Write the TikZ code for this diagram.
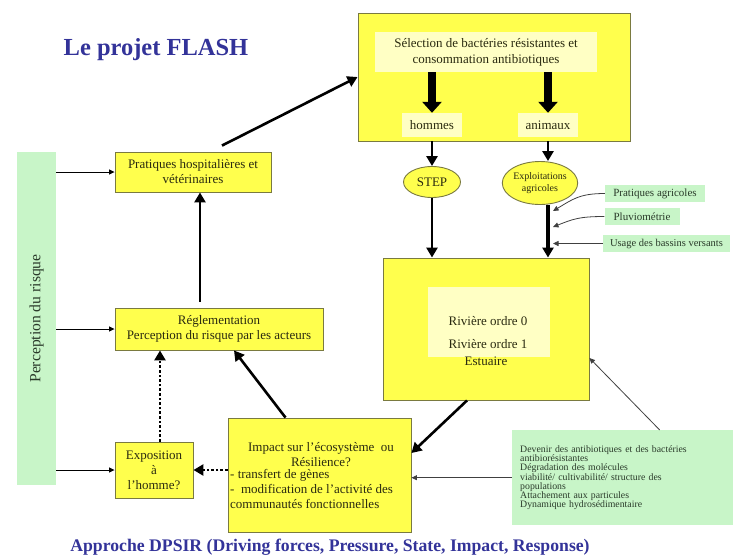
\documentclass[tikz,border=0pt]{standalone}
\usepackage{fontspec}
\setmainfont{Liberation Serif}
\usetikzlibrary{shapes.geometric,arrows.meta}

\definecolor{jaune}{HTML}{FFFF4D}
\definecolor{pale}{HTML}{FFFFC4}
\definecolor{vert}{HTML}{C8F5C8}
\definecolor{bleu}{HTML}{333399}
\definecolor{bord}{HTML}{7A7A40}
\definecolor{encre}{HTML}{2A2A10}
\definecolor{encrev}{HTML}{2A3A2A}

\begin{document}
\begin{tikzpicture}[x=1pt,y=-1pt,>={Triangle[length=10pt,width=11pt]},
    boite/.style={draw=bord,fill=jaune,line width=0.9pt,text=encre,align=center,inner sep=2pt,font=\fontsize{13}{15}\selectfont},
    fond/.style={fill=pale,text=encre,align=center,inner sep=1pt,font=\fontsize{13}{16}\selectfont},
    ovale/.style={ellipse,draw=bord,fill=jaune,line width=0.9pt,text=encre,align=center,inner sep=0pt,font=\fontsize{13}{13}\selectfont},
    vertb/.style={fill=vert,text=encrev,inner sep=1pt,font=\fontsize{11}{12}\selectfont},
    mot/.style={text=encre,align=center,inner sep=0pt,font=\fontsize{13}{15}\selectfont},
    titre/.style={text=bleu,font=\bfseries\fontsize{24.5}{26}\selectfont},
    gros/.style={->,line width=2.6pt},
    bloc/.style={-{Triangle[length=11pt,width=19pt]},line width=8pt},
    pointille/.style={gros,dash pattern=on 2.6pt off 2pt},
    fin/.style={-{Triangle[length=5.5pt,width=5pt]},line width=0.8pt,draw=black!75}]
  \useasboundingbox (0,0) rectangle (733,558);

  % titres
  \node[titre] (titre) at (156,50) {Le projet FLASH};
  \node[titre,font=\bfseries\fontsize{17.7}{19}\selectfont] (dpsir) at (330,547)
    {Approche DPSIR (Driving forces, Pressure, State, Impact, Response)};

  % pression
  \node[boite,minimum width=272pt,minimum height=128pt] (selbox) at (494,77) {};
  \node[fond,minimum width=222pt,minimum height=40pt] (seltxt) at (486,52)
    {S\'election de bact\'eries r\'esistantes et\\consommation antibiotiques};
  \node[fond,minimum width=60pt,minimum height=24pt] (hommes) at (432,125) {hommes};
  \node[fond,minimum width=60pt,minimum height=24pt] (animaux) at (548,125) {animaux};
  \node[ovale,minimum width=57pt,minimum height=31pt] (step) at (432,182) {STEP};
  \node[ovale,minimum width=70pt,minimum height=43pt,font=\fontsize{10}{11.5}\selectfont] (exploit) at (540,183)
    {Exploitations\\agricoles};

  % etat
  \node[boite,minimum width=206pt,minimum height=142pt] (riviere) at (486,329) {};
  \node[fond,minimum width=122pt,minimum height=70pt] (rivfond) at (489,322) {};
  \node[mot] (riv0) at (488,321) {Rivi\`ere ordre 0};
  \node[mot] (riv1) at (488,344) {Rivi\`ere ordre 1};
  \node[mot] (estuaire) at (486,361) {Estuaire};

  % reponse
  \node[boite,minimum width=156pt,minimum height=40pt] (hosp) at (193,172)
    {Pratiques hospitali\`eres et\\v\'et\'erinaires};
  \node[boite,minimum width=208pt,minimum height=42pt] (regl) at (219,329)
    {R\'eglementation\\Perception du risque par les acteurs};
  \node[boite,minimum width=78pt,minimum height=56pt] (expo) at (154,470)
    {Exposition\\\`a\\l'homme?};
  \node[boite,minimum width=183pt,minimum height=114pt] (impact) at (319.5,475) {};
  \node[mot] (impacttitre) at (321,455) {Impact sur l'\'ecosyst\`eme~~ou\\R\'esilience?};
  \node[mot,align=left,anchor=north west] (impactliste) at (230,469)
    {- transfert de g\`enes\\-~~modification de l'activit\'e des\\communaut\'es fonctionnelles};

  % facteurs
  \node[vertb,rotate=90,minimum width=333pt,minimum height=39pt,font=\fontsize{15.6}{16}\selectfont] (percep) at (36.5,318.5)
    {Perception du risque};
  \node[vertb,minimum width=100pt,minimum height=17pt] (pratagr) at (655,193.5) {Pratiques agricoles};
  \node[vertb,minimum width=75pt,minimum height=17pt] (pluvio) at (642,216.5) {Pluviom\'etrie};
  \node[vertb,minimum width=127pt,minimum height=17pt,font=\fontsize{10.5}{12}\selectfont] (usage) at (666.5,243.5) {Usage des bassins versants};
  \node[vertb,anchor=north west,text width=205pt,align=left,inner xsep=8pt,minimum height=95pt,
        font=\fontsize{9.8}{9.2}\selectfont] (devenir) at (512,430)
    {\lineskiplimit=-6pt\relax Devenir des antibiotiques et des bact\'eries\\antibior\'esistantes\\D\'egradation des mol\'ecules\\viabilit\'e/ cultivabilit\'e/ structure des\\populations\\Attachement aux particules\\Dynamique hydros\'edimentaire};

  \coordinate (p1) at (553,211);
  \coordinate (p2) at (553,227);
  \coordinate (p3) at (553,243.5);

  % fleches
  \draw[bloc] (seltxt.south -| hommes) -- (hommes.north);
  \draw[bloc] (seltxt.south -| animaux) -- (animaux.north);
  \draw[gros] (selbox.south -| hommes) -- (step.north);
  \draw[gros] (selbox.south -| animaux) -- (exploit.north -| animaux);
  \draw[gros] (step.south) -- (step.south |- riviere.north);
  \draw[gros,line width=4.5pt] (exploit.south -| animaux) -- (riviere.north -| animaux);

  \draw[fin] (pratagr.west) .. controls +(-25,0) and +(20,-12) .. (p1);
  \draw[fin] (pluvio.west) .. controls +(-25,0) and +(20,-8) .. (p2);
  \draw[fin] (usage.west) -- (p3);

  \foreach \cible in {hosp,regl,expo}
    \draw[fin,draw=black] (percep.south |- \cible.west) -- (\cible.west);

  \draw[gros] ([xshift=29pt,yshift=6pt]hosp.north) -- (selbox.west);
  \draw[gros] ([xshift=-19pt,yshift=6pt]regl.north) -- ([xshift=7pt]hosp.south);
  \draw[pointille] ([xshift=6pt]expo.north) -- ([xshift=6pt]expo.north |- regl.south);
  \draw[gros] ([xshift=-34pt]impact.north) -- ([xshift=15pt]regl.south);
  \draw[pointille] (impact.west |- expo.east) -- (expo.east);
  \draw[gros] ([xshift=-19pt]riviere.south) -- ([yshift=22pt]impact.east);
  \draw[fin] (devenir.west) -- (devenir.west -| impact.east);
  \draw[fin] ([xshift=37pt]devenir.north) -- ([yshift=-29pt]riviere.east);
\end{tikzpicture}
\end{document}
